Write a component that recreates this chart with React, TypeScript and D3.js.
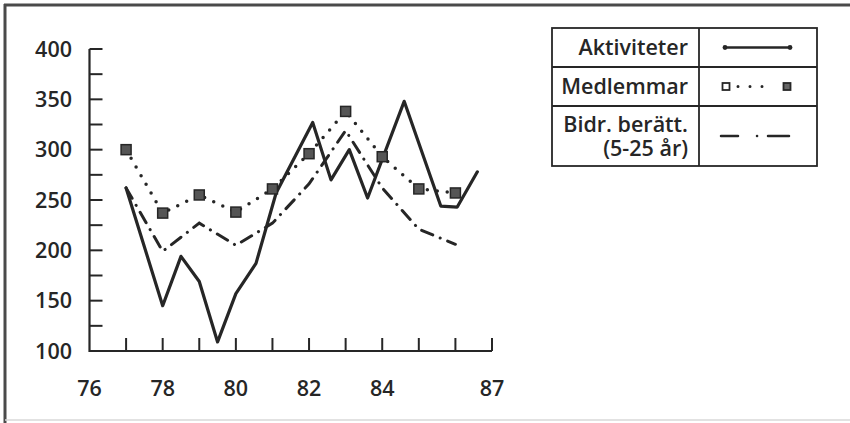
import React from 'react';
import * as d3 from 'd3';

// Aktiviteter is plotted roughly twice a year, the other two once a year
const aktYears = [77, 78, 78.5, 79, 79.5, 80, 80.55, 81.1, 82.1, 82.6, 83.1, 83.6, 84.6, 85.6, 86.05, 86.6];
const aktValues = [262, 145, 194, 169, 109, 157, 187, 257, 327, 270, 300, 252, 348, 244, 243, 278];

const years = [77, 78, 79, 80, 81, 82, 83, 84, 85, 86];
const medlemmar = [300, 237, 255, 238, 261, 296, 338, 293, 261, 257];
const bidrag = [262, 199, 227, 205, 227, 266, 319, 262, 221, 206];

const xTickLabels = [76, 78, 80, 82, 84, 87];
const yTickLabels = [100, 150, 200, 250, 300, 350, 400];

const legendRows = [
  { lines: ['Aktiviteter'], kind: 'solid' },
  { lines: ['Medlemmar'], kind: 'dotted' },
  { lines: ['Bidr. berätt.', '(5-25 år)'], kind: 'dashdot' },
];

const W = 850;
const H = 423;
const ink = '#262626';
const font = '"Open Sans", "Noto Sans", sans-serif';
const fs = 21.5;

const x = d3.scaleLinear().domain([76, 87]).range([89.5, 492]);
const y = d3.scaleLinear().domain([100, 400]).range([351, 49]);

const dotted = '0 10';
const dashDot = '12 8 0.1 8';

export default function App() {
  const line = d3.line<[number, number]>().x(d => x(d[0])).y(d => y(d[1]));

  const akt = line(aktYears.map((yr, i) => [yr, aktValues[i]]));
  const med = line(years.map((yr, i) => [yr, medlemmar[i]]));
  const bid = line(years.map((yr, i) => [yr, bidrag[i]]));

  const xTicks = d3.range(77, 88);
  const yTicks = d3.range(125, 401, 25);

  // legend table
  const lx0 = 552, lx1 = 699, lx2 = 817;
  const rowY = [28, 67, 106, 166];

  return (
    <svg width={W} height={H} style={{ position: 'absolute', left: 0, top: 0, background: '#fff' }}
      fontFamily={font} fontWeight={600} fill={ink}>
      {/* frame of the scanned page */}
      <line x1={4} x2={W} y1={5} y2={5} stroke="#4a4a4a" strokeWidth={3} />
      <line x1={5} x2={5} y1={4} y2={H} stroke="#4a4a4a" strokeWidth={3} />
      <line x1={5} x2={W} y1={420} y2={420} stroke="#d8d8d8" strokeWidth={1.5} />

      {/* axes */}
      <path d={`M${x(76)},${y(400)}V${y(100)}H${x(87)}`} fill="none" stroke={ink} strokeWidth={2.2} />
      {xTicks.map(t => (
        <line key={'xt' + t} x1={x(t)} x2={x(t)} y1={y(100)} y2={y(100) - 13} stroke={ink} strokeWidth={2} />
      ))}
      {yTicks.map(t => (
        <line key={'yt' + t} x1={x(76)} x2={x(76) + 13} y1={y(t)} y2={y(t)} stroke={ink} strokeWidth={2} />
      ))}
      {xTickLabels.map(t => (
        <text key={'xl' + t} x={x(t)} y={396} textAnchor="middle" fontSize={fs}>{t}</text>
      ))}
      {yTickLabels.map(t => (
        <text key={'yl' + t} x={72} y={y(t) + 7.5} textAnchor="end" fontSize={fs}>{t}</text>
      ))}

      {/* series */}
      <path d={bid ?? ''} fill="none" stroke={ink} strokeWidth={3} strokeDasharray={dashDot} strokeLinecap="round" />
      <path d={med ?? ''} fill="none" stroke={ink} strokeWidth={3.5} strokeDasharray={dotted} strokeLinecap="round" />
      <path d={akt ?? ''} fill="none" stroke={ink} strokeWidth={3.2} strokeLinejoin="round" strokeLinecap="round" />
      {years.map((yr, i) => (
        <rect key={'sq' + yr} x={x(yr) - 5} y={y(medlemmar[i]) - 5} width={10} height={10}
          fill="#555" stroke={ink} strokeWidth={1.5} />
      ))}

      {/* legend */}
      <rect x={lx0} y={rowY[0]} width={lx2 - lx0} height={rowY[3] - rowY[0]} fill="none" stroke={ink} strokeWidth={1.8} />
      <line x1={lx1} x2={lx1} y1={rowY[0]} y2={rowY[3]} stroke={ink} strokeWidth={1.8} />
      {[rowY[1], rowY[2]].map(v => (
        <line key={'ry' + v} x1={lx0} x2={lx2} y1={v} y2={v} stroke={ink} strokeWidth={1.8} />
      ))}
      {legendRows.map((row, i) => {
        const top = rowY[i];
        const bottom = rowY[i + 1];
        const mid = (top + bottom) / 2;
        const n = row.lines.length;
        return (
          <g key={row.kind}>
            <text textAnchor="end" fontSize={fs}>
              {row.lines.map((s, j) => (
                <tspan key={s} x={688} y={mid + 7.5 + (j - (n - 1) / 2) * 24}>{s}</tspan>
              ))}
            </text>
            {row.kind === 'solid' && (
              <g>
                <line x1={725} x2={790} y1={mid} y2={mid} stroke={ink} strokeWidth={2.4} />
                <circle cx={725} cy={mid} r={2.4} />
                <circle cx={790} cy={mid} r={2.4} />
              </g>
            )}
            {row.kind === 'dotted' && (
              <g>
                <line x1={738} x2={774} y1={mid} y2={mid} stroke={ink} strokeWidth={3} strokeDasharray="0 12" strokeLinecap="round" />
                <rect x={722.5} y={mid - 3.5} width={7} height={7} fill="#fff" stroke={ink} strokeWidth={1.8} />
                <rect x={783.5} y={mid - 3.5} width={7} height={7} fill="#666" stroke={ink} strokeWidth={1.8} />
              </g>
            )}
            {row.kind === 'dashdot' && (
              <path d={`M721,${mid}H738M757,${mid}h0.1M768,${mid}H789`} stroke={ink} strokeWidth={2.5} strokeLinecap="round" fill="none" />
            )}
          </g>
        );
      })}
    </svg>
  );
}
